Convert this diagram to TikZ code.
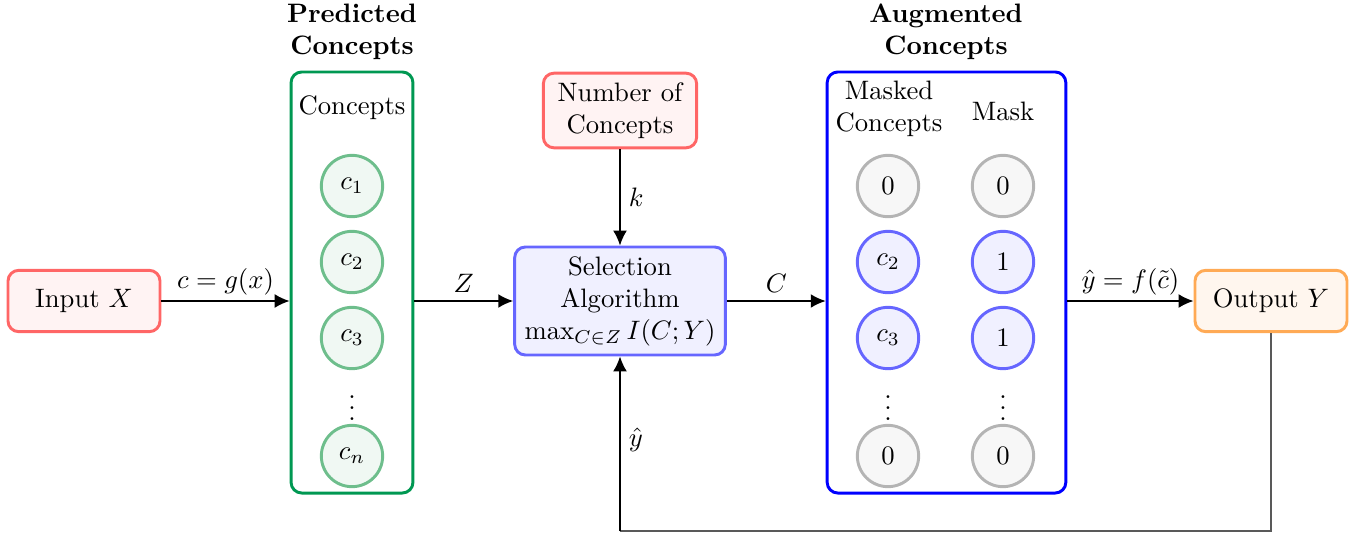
\documentclass[tikz,border=0pt]{standalone}
\usetikzlibrary{arrows.meta}
\definecolor{grnB}{RGB}{0,152,82}
\definecolor{grnC}{RGB}{110,190,140}
\definecolor{redB}{RGB}{255,102,102}
\definecolor{bluB}{RGB}{102,102,255}
\definecolor{orB}{RGB}{255,170,85}
\definecolor{gryB}{RGB}{180,180,180}
\tikzset{
  arr/.style={line width=0.6pt,-{Latex[length=5.6pt,width=5.2pt]}},
  rbox/.style={draw=redB,fill=redB!8,line width=1.1pt,rounded corners=4pt,align=center,inner sep=0pt},
  obox/.style={draw=orB,fill=orB!10,line width=1.1pt,rounded corners=4pt,align=center,inner sep=0pt},
  sbox/.style={draw=bluB,fill=bluB!10,line width=1.1pt,rounded corners=4pt,align=center,inner sep=0pt},
  gcirc/.style={circle,draw=grnC,fill=grnC!10,line width=1.1pt,minimum size=23pt,inner sep=0pt},
  bcirc/.style={circle,draw=bluB,fill=bluB!10,line width=1.1pt,minimum size=23pt,inner sep=0pt},
  ycirc/.style={circle,draw=gryB,fill=black!3,line width=1.1pt,minimum size=23pt,inner sep=0pt},
  bigbox/.style={rounded corners=4pt,line width=1.1pt,inner sep=0pt},
  lbl/.style={inner sep=0pt},
}
\begin{document}
\begin{tikzpicture}[x=0.375pt,y=-0.375pt]
\useasboundingbox (0,0) rectangle (1355,533);
% input / output
\node[rbox,minimum width=57pt,minimum height=23pt] (in) at (84,301) {Input $X$};
\node[obox,minimum width=57pt,minimum height=23pt] (out) at (1271,301) {Output $Y$};
% predicted concepts box
\node[bigbox,draw=grnB,minimum width=45.7pt,minimum height=157.9pt] (pbox) at (352,282.5) {};
\node[align=center,font=\bfseries,lbl] (ptitle) at (352,32) {Predicted\\Concepts};
\node[lbl] (pc) at (352,108) {Concepts};
\node[gcirc] (c1) at (352,186) {$c_1$};
\node[gcirc] (c2) at (352,262) {$c_2$};
\node[gcirc] (c3) at (352,338) {$c_3$};
\node[lbl] (pd) at (352,400) {$\vdots$};
\node[gcirc] (cn) at (352,456) {$c_n$};
% number of concepts
\node[rbox,minimum width=57.5pt,minimum height=28pt] (num) at (620,110.5) {Number of\\Concepts};
% selection
\node[sbox,minimum width=79pt,minimum height=40.5pt] (sel) at (620,301) {Selection\\Algorithm\\$\max_{C\in Z} I(C;Y)$};
% augmented box
\node[bigbox,draw=blue,minimum width=89.5pt,minimum height=157.9pt] (abox) at (946.5,282.5) {};
\node[align=center,font=\bfseries,lbl] (atitle) at (946,32) {Augmented\\Concepts};
\node[align=center,lbl] (mc) at (889,109) {Masked\\Concepts};
\node[lbl] (mk) at (1003,111) {Mask};
\node[ycirc] (m1) at (888,186) {0};
\node[bcirc] (m2) at (888,262) {$c_2$};
\node[bcirc] (m3) at (888,338) {$c_3$};
\node[lbl] (md) at (888,400) {$\vdots$};
\node[ycirc] (mn) at (888,456) {0};
\node[ycirc] (k1) at (1003,186) {0};
\node[bcirc] (k2) at (1003,262) {1};
\node[bcirc] (k3) at (1003,338) {1};
\node[lbl] (kd) at (1003,400) {$\vdots$};
\node[ycirc] (kn) at (1003,456) {0};
% connectors
\draw[arr] (in.east) -- node[above=2pt,lbl] {$c=g(x)$} (pbox.west |- in.east);
\draw[arr] (pbox.east |- sel.west) -- node[above=3pt,lbl] {$Z$} (sel.west);
\draw[arr] (num.south) -- node[right=3pt,lbl] {$k$} (sel.north);
\draw[arr] (sel.east) -- node[above=3pt,lbl] {$C$} (abox.west |- sel.east);
\draw[arr] (abox.east |- out.west) -- node[above=2pt,lbl] {$\hat y = f(\tilde c)$} (out.west);
\coordinate (fb) at (1271,531);
\draw[line width=0.6pt,black!65] (out.south) -- (fb) -- (sel.south |- fb);
\draw[arr] (sel.south |- fb) -- node[pos=0.52,right=3pt,lbl,text=black] {$\hat y$} (sel.south);
\end{tikzpicture}
\end{document}
